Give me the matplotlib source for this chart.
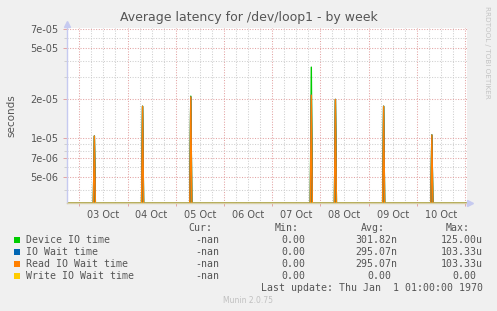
import matplotlib
matplotlib.use("Agg")
import matplotlib.pyplot as plt
from matplotlib.patches import Rectangle
import numpy as np

W, H = 497, 311

# sample times, hours after 03 Oct 00:00 (30 min consolidation)
sample_hours = np.arange(-6.0, 193.5, 0.5)
spike_hours = [7.5, 31.5, 55.5, 115.5, 127.5, 151.5, 175.5]
device_io_peaks = [1.04e-5, 1.77e-5, 2.12e-5, 3.56e-5, 2.0e-5, 1.77e-5, 1.06e-5]
io_wait_peaks = [1.04e-5, 1.77e-5, 2.09e-5, 2.16e-5, 2.0e-5, 1.77e-5, 1.06e-5]
read_wait_peaks = [1.04e-5, 1.77e-5, 2.09e-5, 2.16e-5, 2.0e-5, 1.77e-5, 1.06e-5]
write_wait_peaks = [0, 0, 0, 0, 0, 0, 0]

day_labels = ["03 Oct", "04 Oct", "05 Oct", "06 Oct", "07 Oct", "08 Oct", "09 Oct", "10 Oct"]
y_major = [5e-6, 7e-6, 1e-5, 2e-5, 5e-5, 7e-5]
y_major_labels = ["5e-06", "7e-06", "1e-05", "2e-05", "5e-05", "7e-05"]
y_minor = [4e-6, 6e-6, 8e-6, 9e-6, 3e-5, 4e-5, 6e-5]

series_names = ["Device IO time", "IO Wait time", "Read IO Wait time", "Write IO Wait time"]
series_colors = ["#00CC00", "#0066B3", "#FF8000", "#FFCC00"]
cur_vals = ["-nan", "-nan", "-nan", "-nan"]
min_vals = ["0.00", "0.00", "0.00", "0.00"]
avg_vals = ["301.82n", "295.07n", "295.07n", "0.00"]
max_vals = ["125.00u", "103.33u", "103.33u", "0.00"]

YMIN, YMAX = 3.13e-6, 7.16e-5
XMIN, XMAX = -6.12, 193.0

TXT = "#555555"
MGRID = "#E3A3A3"
GRID = "#CFCFCF"
AXIS = "#C6CAF0"


def series(peaks):
    vals = np.zeros_like(sample_hours)
    for h, v in zip(spike_hours, peaks):
        vals[np.argmin(np.abs(sample_hours - h))] = v
    return vals


def fx(px):
    return px / W


def fy(py):
    return 1 - py / H


fig = plt.figure(figsize=(W / 100, H / 100), dpi=100, facecolor="#F0F0F0")
ax = fig.add_axes([fx(67), fy(203.3), 400 / W, 175.3 / H])
ax.set_facecolor("white")
ax.set_yscale("log")
ax.set_xlim(XMIN, XMAX)
ax.set_ylim(YMIN, YMAX)

for s in ax.spines.values():
    s.set_visible(False)

dot = (0, (1, 1.5))
for h in np.arange(-6, 193, 6):
    if h % 24 != 0:
        ax.axvline(h, color=GRID, lw=0.75, ls=dot, zorder=1)
for h in np.arange(0, 193, 24):
    ax.axvline(h, color=MGRID, lw=0.75, ls=dot, zorder=1)
for v in y_minor:
    ax.axhline(v, color=GRID, lw=0.75, ls=dot, zorder=1)
for v in y_major:
    ax.axhline(v, color=MGRID, lw=0.75, ls=dot, zorder=1)

all_peaks = [device_io_peaks, io_wait_peaks, read_wait_peaks, write_wait_peaks]
# overlapping lines blend to a brownish body inside each spike
ax.fill_between(sample_hours, YMIN, np.maximum(series(read_wait_peaks), YMIN),
                color="#B0822E", lw=0, zorder=2)
for peaks, c in zip(all_peaks, series_colors):
    ax.plot(sample_hours, np.maximum(series(peaks), YMIN), color=c, lw=1.0, zorder=3)

ax.set_xticks(np.arange(12, 192, 24))
ax.set_xticklabels(day_labels)
ax.set_xticks(np.arange(0, 193, 24), minor=True)
ax.tick_params(axis="x", which="major", length=0, pad=5, labelsize=7, labelcolor=TXT)
ax.tick_params(axis="x", which="minor", length=2.5, width=0.7, color=MGRID)

ax.set_yticks(y_major)
ax.set_yticklabels(y_major_labels)
ax.set_yticks(y_minor, minor=True)
ax.yaxis.set_minor_formatter(plt.NullFormatter())
ax.tick_params(axis="y", which="major", length=3, width=0.7, color=MGRID, pad=3, labelsize=7, labelcolor=TXT)
ax.tick_params(axis="y", which="minor", length=2, width=0.7, color=GRID)

# axes with arrows
ax.plot([0, 0], [0, 1.02], transform=ax.transAxes, color=AXIS, lw=1, clip_on=False, zorder=4)
ax.plot([0], [1.023], transform=ax.transAxes, marker="^", ms=4, color=AXIS, clip_on=False, zorder=4)
ax.plot([0, 1.005], [0, 0], transform=ax.transAxes, color="#D8D0A8", lw=1, clip_on=False, zorder=4)
ax.plot([1.0085], [0], transform=ax.transAxes, marker=">", ms=4, color=AXIS, clip_on=False, zorder=4)

fig.text(fx(11), fy(115.5), "seconds", rotation=90, ha="center", va="center", fontsize=7.5, color=TXT)

fig.text(0.5, fy(18), "Average latency for /dev/loop1 - by week", ha="center", va="center",
         fontsize=9, color=TXT)
fig.text(fx(487), fy(52), "RRDTOOL / TOBI OETIKER", rotation=270, ha="center", va="center",
         fontsize=5.2, color="#C4C4C4")

mono = dict(family="DejaVu Sans Mono", fontsize=7.1, color=TXT, va="center")
fig.text(fx(212.7), fy(228.3), "Cur:", ha="right", **mono)
fig.text(fx(298.7), fy(228.3), "Min:", ha="right", **mono)
fig.text(fx(385), fy(228.3), "Avg:", ha="right", **mono)
fig.text(fx(470), fy(228.3), "Max:", ha="right", **mono)

row_y = [240, 251.7, 263.7, 275.7]
for i, y in enumerate(row_y):
    fig.add_artist(Rectangle((fx(14), fy(y + 3)), 6 / W, 6 / H, transform=fig.transFigure,
                             color=series_colors[i], lw=0))
    fig.text(fx(26), fy(y), series_names[i], ha="left", **mono)
    fig.text(fx(219.3), fy(y), cur_vals[i], ha="right", **mono)
    fig.text(fx(305), fy(y), min_vals[i], ha="right", **mono)
    last = i == 3
    fig.text(fx(391 if last else 397.3), fy(y), avg_vals[i], ha="right", **mono)
    fig.text(fx(476.7 if last else 482.7), fy(y), max_vals[i], ha="right", **mono)

fig.text(fx(482.7), fy(287.7), "Last update: Thu Jan  1 01:00:00 1970", ha="right", **mono)
fig.text(fx(248), fy(300.3), "Munin 2.0.75", ha="center", va="center", fontsize=5.5, color="#C0C0C0")

fig.savefig("out.png", dpi=100, facecolor=fig.get_facecolor())
